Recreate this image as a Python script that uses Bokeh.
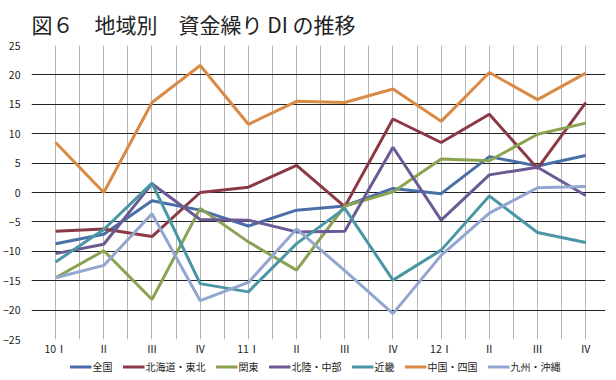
from bokeh.plotting import figure
from bokeh.layouts import column
from bokeh.models import FixedTicker, Legend, LegendItem, Range1d
from bokeh.embed import file_html
from bokeh.resources import INLINE

quarters = ["10Ⅰ", "Ⅱ", "Ⅲ", "Ⅳ", "11Ⅰ", "Ⅱ", "Ⅲ", "Ⅳ", "12Ⅰ", "Ⅱ", "Ⅲ", "Ⅳ"]

zenkoku = [-8.7, -7.1, -1.4, -3.0, -5.7, -3.0, -2.3, 0.7, -0.2, 6.1, 4.5, 6.3]
hokkaido_tohoku = [-6.6, -6.2, -7.5, 0.0, 0.9, 4.6, -2.4, 12.5, 8.5, 13.3, 4.1, 15.3]
kanto = [-14.5, -9.9, -18.2, -2.7, -8.4, -13.2, -2.3, 0.1, 5.7, 5.4, 9.9, 11.8]
hokuriku_chubu = [-10.4, -8.8, 1.5, -4.6, -4.7, -6.7, -6.6, 7.7, -4.7, 3.0, 4.3, -0.5]
kinki = [-11.8, -6.3, 1.6, -15.5, -16.9, -8.7, -2.7, -14.9, -9.8, -0.6, -6.8, -8.5]
chugoku_shikoku = [8.5, 0.0, 15.3, 21.6, 11.6, 15.5, 15.3, 17.6, 12.1, 20.4, 15.8, 20.3]
kyushu_okinawa = [-14.5, -12.4, -3.6, -18.4, -15.3, -6.2, -13.3, -20.6, -10.7, -3.5, 0.8, 1.0]

series_names = ["全国", "北海道・東北", "関東", "北陸・中部", "近畿", "中国・四国", "九州・沖縄"]
series_values = [zenkoku, hokkaido_tohoku, kanto, hokuriku_chubu, kinki, chugoku_shikoku, kyushu_okinawa]
colors = ["#4a6fa8", "#8b3a45", "#8aa352", "#6b5a94", "#4a96a5", "#d98a45", "#93a6cf"]

y_ticks = [-25, -20, -15, -10, -5, 0, 5, 10, 15, 20, 25]

FONT = "Noto Sans CJK JP"

p = figure(frame_width=574, frame_height=294, output_backend="svg", toolbar_location=None,
           x_range=Range1d(-0.5, 11.41), y_range=Range1d(-25, 25),
           min_border_left=25, min_border_right=1, min_border_top=36,
           min_border_bottom=18)
p.outline_line_color = None
p.background_fill_color = "white"

p.title.text = "図６　地域別　資金繰り DI の推移"
p.title.text_font = FONT
p.title.text_font_size = "21px"
p.title.text_font_style = "normal"
p.title.text_color = "#222222"
p.title.standoff = 13

xs = list(range(len(quarters)))
for name, vals, c in zip(series_names, series_values, colors):
    p.line(xs, vals, line_color=c, line_width=3)

# grids
p.ygrid.ticker = FixedTicker(ticks=y_ticks)
p.ygrid.grid_line_color = "#222222"
p.ygrid.grid_line_width = 1.2
p.xgrid.ticker = FixedTicker(ticks=[i * 0.5 for i in range(0, 24)])
p.xgrid.grid_line_color = "#b4b4b4"
p.xgrid.grid_line_width = 1

# axes
p.xaxis.ticker = FixedTicker(ticks=xs)
p.xaxis.major_label_overrides = {i: q for i, q in enumerate(quarters)}
p.yaxis.ticker = FixedTicker(ticks=y_ticks)
for ax in (p.xaxis[0], p.yaxis[0]):
    ax.axis_line_color = None
    ax.major_tick_line_color = None
    ax.minor_tick_line_color = None
    ax.major_tick_out = 0
    ax.major_tick_in = 0
    ax.minor_tick_out = 0
    ax.minor_tick_in = 0
    ax.major_label_text_font = FONT
    ax.major_label_text_font_size = "10.5px"
    ax.major_label_text_color = "#222222"
p.yaxis.major_label_standoff = 11
p.xaxis.major_label_standoff = 1

# legend strip (separate figure below the chart)
lg = figure(width=600, height=16, output_backend="svg", toolbar_location=None,
            x_range=Range1d(0, 1), y_range=Range1d(100, 101),
            x_axis_location=None, y_axis_location=None,
            min_border=0)
lg.outline_line_color = None
lg.grid.visible = False
items = []
for name, vals, c in zip(series_names, series_values, colors):
    r = lg.line(xs, vals, line_color=c, line_width=3)
    items.append(LegendItem(label=name, renderers=[r]))
legend = Legend(items=items, orientation="horizontal", location="center",
                label_text_font=FONT, label_text_font_size="10px",
                label_text_color="#222222", glyph_width=22, glyph_height=10,
                label_standoff=1, spacing=10, padding=0, margin=0,
                label_height=12, border_line_color=None, background_fill_alpha=0)
lg.add_layout(legend, "center")

layout = column(p, lg, spacing=0)
open("out.html", "w").write(file_html(layout, INLINE))
